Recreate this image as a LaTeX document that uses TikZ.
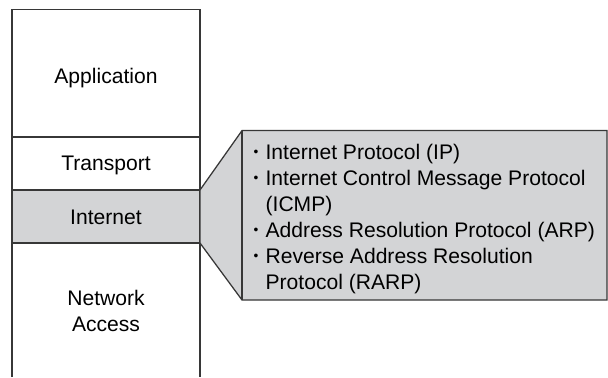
\documentclass[tikz,border=0pt]{standalone}
\usepackage{fontspec}
\setmainfont{Liberation Sans}
\usetikzlibrary{positioning}
\definecolor{layergray}{RGB}{211,212,214}
\definecolor{edgegray}{RGB}{55,55,55}
\newcommand{\dotitem}{\makebox[0.3cm][l]{\raisebox{0.22ex}{\scalebox{0.65}{\textbullet}}}}
\newcommand{\noitem}{\hspace*{0.3cm}}

\begin{document}
\begin{tikzpicture}[line width=0.9pt, draw=edgegray,
    every node/.style={font=\fontsize{15}{18.6}\selectfont}]
  \useasboundingbox (0,0) rectangle (15.2,9.425);
  \coordinate (TL) at (0.3,9.19);
  \coordinate (TR) at (5.0,9.19);
  \coordinate (BL) at (0.3,0);
  \coordinate (BR) at (5.0,0);
  % internet layer
  \fill[layergray] (0.3,3.35) rectangle (5.0,4.675);
  \draw[edgegray] (BL)--(TL)--(TR)--(BR);
  \draw[edgegray] (0.3,6.0)--(5.0,6.0);
  \draw[edgegray] (0.3,4.675) coordinate (IL) -- (5.0,4.675) coordinate (IR);
  \draw[edgegray] (0.3,3.35)--(5.0,3.35) coordinate (IRb);
  \node (app) at (2.65,7.47){Application};
  \node (trans) at (2.65,5.3){Transport};
  \node (inet) at (2.65,3.99){Internet};
  \node[align=center] (netacc) at (2.65,1.66){Network\\Access};
  % callout
  \coordinate (CTL) at (6.05,6.16);
  \coordinate (CTR) at (15.175,6.16);
  \coordinate (CBR) at (15.175,1.925);
  \coordinate (CBL) at (6.05,1.925);
  \filldraw[fill=layergray, draw=edgegray] (IR)--(CTL)--(CTR)--(CBR)--(CBL)--(IRb)--cycle;
  \draw[edgegray] (CTL)--(CBL);
  \node[anchor=west, align=left, inner sep=0pt, font=\fontsize{15}{18.5}\selectfont]
    (protos) at (6.325,3.96){%
    \dotitem Internet Protocol (IP)\\
    \dotitem Internet Control Message Protocol\\
    \noitem (ICMP)\\
    \dotitem Address Resolution Protocol (ARP)\\
    \dotitem Reverse Address Resolution\\
    \noitem Protocol (RARP)};
\end{tikzpicture}
\end{document}
